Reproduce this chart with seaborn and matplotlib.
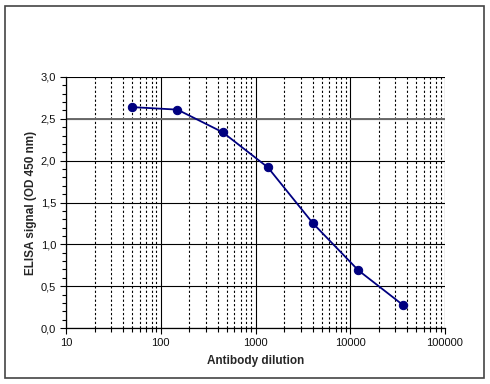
import matplotlib
matplotlib.use("Agg")
import matplotlib.pyplot as plt
import matplotlib.ticker as mticker
from matplotlib.patches import Rectangle
import seaborn as sns
import pandas as pd

dilution = [50, 150, 450, 1350, 4050, 12150, 36450]
signal = [2.64, 2.61, 2.34, 1.92, 1.25, 0.69, 0.27]
x_label = "Antibody dilution"
y_label = "ELISA signal (OD 450 nm)"

sns.set_theme(style="white")
plt.rcParams['font.family'] = ['Liberation Sans', 'DejaVu Sans']

df = pd.DataFrame({"dilution": dilution, "signal": signal})

fig = plt.figure(figsize=(4.9, 3.84), dpi=100)
fig.patches.append(Rectangle((5/490, 6/384), 479/490, 372/384, transform=fig.transFigure,
                             fill=False, edgecolor="#444444", linewidth=1.2))
ax = fig.add_axes([66/490, 1-328/384, (445-66)/490, (328-77)/384])

ax.set_xscale("log")
ax.set_xlim(10, 100000)
ax.set_ylim(0, 3.0)

ax.xaxis.set_major_locator(mticker.LogLocator(base=10, numticks=10))
ax.xaxis.set_minor_locator(mticker.LogLocator(base=10, subs=range(2, 10), numticks=10))
ax.yaxis.set_major_locator(mticker.MultipleLocator(0.5))
ax.yaxis.set_minor_locator(mticker.MultipleLocator(0.1))
ax.grid(which="major", axis="x", color="black", linewidth=0.8, linestyle="-")
ax.grid(which="minor", axis="x", color="black", linewidth=0.8, linestyle=(0, (2, 2)))
ax.grid(which="major", axis="y", color="black", linewidth=0.8, linestyle="-")
ax.set_axisbelow(True)
ax.axhline(2.5, color="#6a6a6a", linewidth=1.4, zorder=1)

sns.lineplot(data=df, x="dilution", y="signal", ax=ax, color="#000080",
             marker="o", markersize=6, markeredgecolor="#000080", linewidth=1.3, zorder=3)

ax.xaxis.set_major_formatter(mticker.FuncFormatter(lambda v, p: f"{int(round(v))}"))
ax.xaxis.set_minor_formatter(mticker.NullFormatter())
ax.yaxis.set_major_formatter(mticker.FuncFormatter(lambda v, p: f"{v:.1f}".replace(".", ",")))

ax.tick_params(axis="both", which="major", direction="out", length=4, width=0.8,
               color="black", labelsize=8, labelcolor="#111111", left=True, bottom=True, pad=3)
ax.tick_params(axis="both", which="minor", direction="out", length=3, width=0.8,
               color="black", left=True, bottom=True)

for s in ["top", "right"]:
    ax.spines[s].set_visible(False)
for s in ["left", "bottom"]:
    ax.spines[s].set_color("black")
    ax.spines[s].set_linewidth(0.9)

ax.set_xlabel(x_label, fontsize=8.5, fontweight="bold", labelpad=5)
ax.set_ylabel(y_label, fontsize=8.5, fontweight="bold", labelpad=3)

fig.savefig("out.png", dpi=100, facecolor="white")
